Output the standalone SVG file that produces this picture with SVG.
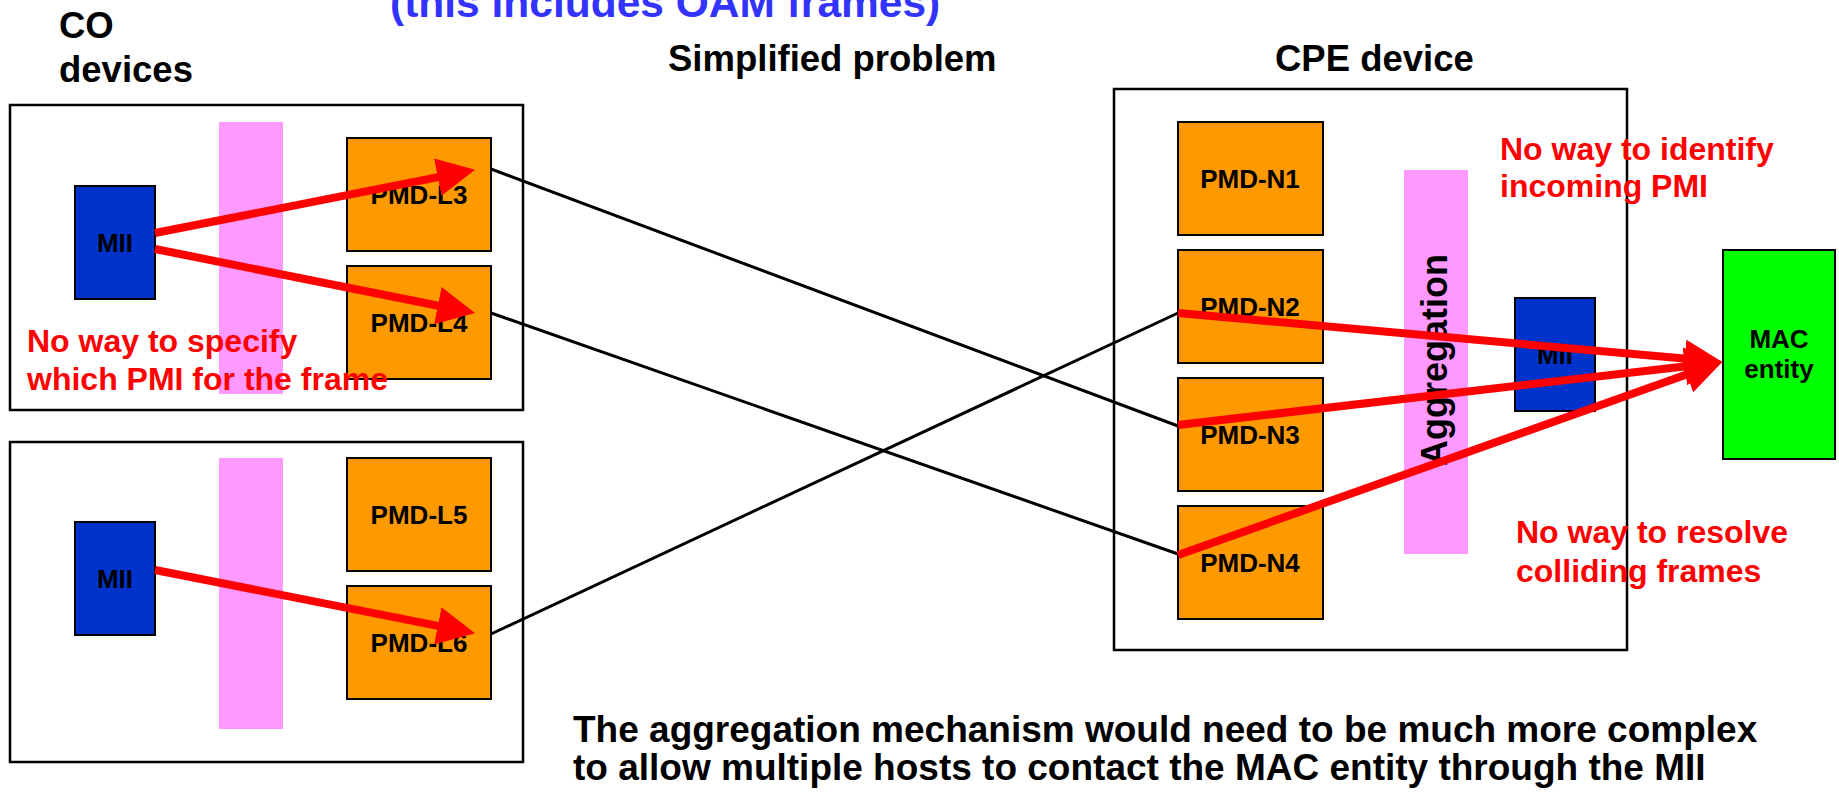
<svg xmlns="http://www.w3.org/2000/svg" width="1839" height="792" viewBox="0 0 1839 792">
<style>
text{font-family:"Liberation Sans",Arial,sans-serif;font-weight:bold}
.frame{fill:#fff;stroke:#000;stroke-width:2.5}
.pink{fill:#FF99FF}
.pmd{fill:#FF9900;stroke:#000;stroke-width:2}
.mii{fill:#0033CC;stroke:#000;stroke-width:2}
.mac{fill:#00FF00;stroke:#000;stroke-width:2}
.lbl{font-size:26px;fill:#000;text-anchor:middle}
.head{font-size:36.5px;fill:#000}
.note{font-size:32px;fill:#FF0000}
.link{stroke:#000;stroke-width:3;fill:none}
.flow{stroke:#FF0000;stroke-width:8;fill:none;marker-end:url(#ah)}
</style>
<defs>
<marker id="ah" markerUnits="userSpaceOnUse" markerWidth="38" markerHeight="38" viewBox="0 0 36 36" refX="26" refY="18" orient="auto">
<path d="M0,0 L36,18 L0,36 z" fill="#FF0000"/>
</marker>
</defs>
<rect width="1839" height="792" fill="#fff"/>

<text x="390" y="17" style="font-size:42.5px;fill:#3333FF">(this includes OAM frames)</text>
<g id="title-co"><text class="head" x="59" y="38">CO</text><text class="head" x="59" y="82">devices</text></g>
<text class="head" x="668" y="71">Simplified problem</text>
<text class="head" x="1275" y="71">CPE device</text>

<g id="co-device-1">
<rect class="frame" x="10" y="105" width="513" height="305"/>
<rect class="pink" x="219" y="122" width="64" height="272"/>
</g>
<g id="co-device-2">
<rect class="frame" x="10" y="442" width="513" height="320"/>
<rect class="pink" x="219" y="458" width="64" height="271"/>
</g>
<g id="cpe-device">
<rect class="frame" x="1114" y="89" width="513" height="561"/>
</g>

<g id="mii-1"><rect class="mii" x="75" y="186" width="80" height="113"/><text class="lbl" x="115" y="252">MII</text></g>
<g id="mii-2"><rect class="mii" x="75" y="522" width="80" height="113"/><text class="lbl" x="115" y="588">MII</text></g>
<g id="pmd-l3"><rect class="pmd" x="347" y="138" width="144" height="113"/><text class="lbl" x="419" y="204">PMD-L3</text></g>
<g id="pmd-l4"><rect class="pmd" x="347" y="266" width="144" height="113"/><text class="lbl" x="419" y="332">PMD-L4</text></g>
<g id="pmd-l5"><rect class="pmd" x="347" y="458" width="144" height="113"/><text class="lbl" x="419" y="524">PMD-L5</text></g>
<g id="pmd-l6"><rect class="pmd" x="347" y="586" width="144" height="113"/><text class="lbl" x="419" y="652">PMD-L6</text></g>

<g id="pmd-n1"><rect class="pmd" x="1178" y="122" width="145" height="113"/><text class="lbl" x="1250" y="188">PMD-N1</text></g>
<g id="pmd-n2"><rect class="pmd" x="1178" y="250" width="145" height="113"/><text class="lbl" x="1250" y="316">PMD-N2</text></g>
<g id="pmd-n3"><rect class="pmd" x="1178" y="378" width="145" height="113"/><text class="lbl" x="1250" y="444">PMD-N3</text></g>
<g id="pmd-n4"><rect class="pmd" x="1178" y="506" width="145" height="113"/><text class="lbl" x="1250" y="572">PMD-N4</text></g>
<g id="aggregation"><rect class="pink" x="1404" y="170" width="64" height="384"/><text transform="translate(1447,360) rotate(-90)" style="font-size:36px;text-anchor:middle">Aggregation</text></g>
<g id="mii-cpe"><rect class="mii" x="1515" y="298" width="80" height="113"/><text class="lbl" x="1555" y="364">MII</text></g>
<g id="mac-entity"><rect class="mac" x="1723" y="250" width="112" height="209"/><text class="lbl" x="1779" y="348">MAC</text><text class="lbl" x="1779" y="378">entity</text></g>

<g id="notes">
<text class="note" x="27" y="352">No way to specify</text>
<text class="note" x="27" y="390">which PMI for the frame</text>
<text class="note" x="1500" y="160">No way to identify</text>
<text class="note" x="1500" y="197">incoming PMI</text>
<text class="note" x="1516" y="543">No way to resolve</text>
<text class="note" x="1516" y="582">colliding frames</text>
</g>

<g id="connectors">
<line class="link" x1="491" y1="169" x2="1178" y2="426"/>
<line class="link" x1="491" y1="313" x2="1178" y2="554"/>
<line class="link" x1="491" y1="634" x2="1178" y2="313"/>
<line class="flow" x1="155" y1="233" x2="464.7" y2="171.9"/>
<line class="flow" x1="155" y1="249" x2="464.7" y2="311.0"/>
<line class="flow" x1="155" y1="570" x2="464.7" y2="631.1"/>
<line class="flow" x1="1178" y1="313" x2="1712.0" y2="361.1"/>
<line class="flow" x1="1178" y1="425" x2="1712.1" y2="363.2"/>
<line class="flow" x1="1178" y1="555" x2="1712.6" y2="365.3"/>
</g>

<text class="head" x="573" y="742" style="font-size:37px">The aggregation mechanism would need to be much more complex</text>
<text class="head" x="573" y="780" style="font-size:37px">to allow multiple hosts to contact the MAC entity through the MII</text>
</svg>
